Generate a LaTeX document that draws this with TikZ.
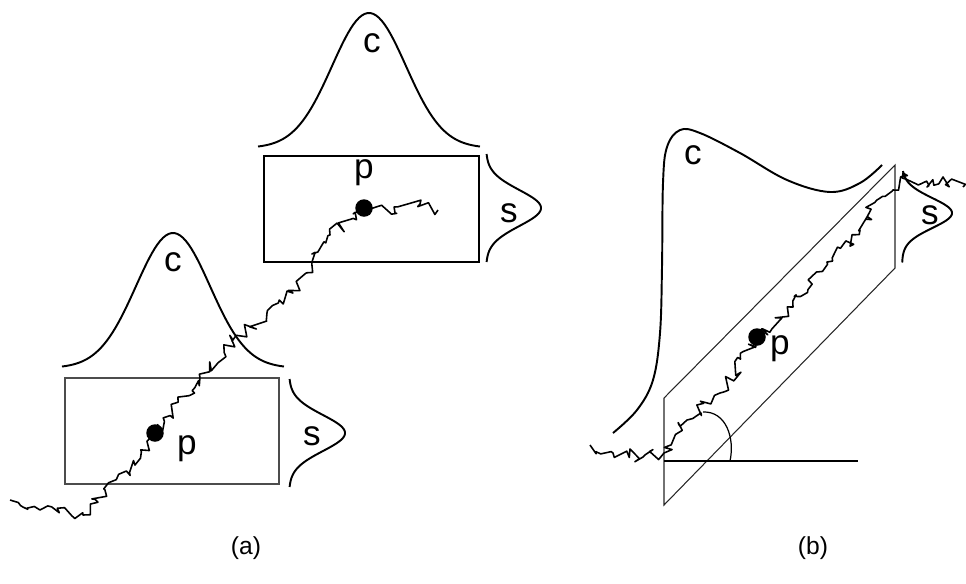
\documentclass[tikz,border=0pt]{standalone}
\usepackage{fontspec}
\setmainfont{Liberation Sans}
\usetikzlibrary{decorations.pathmorphing}

\tikzset{
  dot/.style={circle, fill=black, inner sep=0pt, minimum size=0.35cm},
  letter/.style={font=\fontsize{20}{24}\selectfont, inner sep=0pt},
  caption/.style={font=\fontsize{14}{16}\selectfont, inner sep=0pt},
  walk/.style={line width=0.9pt, line join=round, decorate,
    decoration={random steps, segment length=2.6pt, amplitude=3.6pt}},
  bell/.style={line width=1.1pt, line join=round},
  frame/.style={line width=0.7pt}
}

\begin{document}
\begin{tikzpicture}[x=0.02cm, y=-0.02cm]
  \useasboundingbox (0,0) rectangle (966,583);
  \pgfmathsetseed{11}

  % (a) windows
  \draw[frame, black!70] (65,378) rectangle (279,484);
  \draw[frame] (264,156) rectangle (479,262);

  % (a) bells
  \draw[bell] plot[domain=-3:3, samples=80] ({173+37*\x}, {368-135*exp(-0.5*(\x)^2)});
  \draw[bell] plot[domain=-3:3, samples=80] ({289+56*exp(-0.5*(\x)^2)}, {433+18*\x});
  \draw[bell] plot[domain=-3:3, samples=80] ({369+37*\x}, {148-135*exp(-0.5*(\x)^2)});
  \draw[bell] plot[domain=-3:3, samples=80] ({486+55*exp(-0.5*(\x)^2)}, {208+18*\x});

  % (a) nodes
  \node[dot] (pa) at (155,433) {};
  \node[letter] (pla) at (187,449) {p};
  \node[letter] (cla) at (173,262) {c};
  \node[letter] (sla) at (312,436) {s};
  \node[dot] (pb) at (364,208) {};
  \node[letter] (plb) at (364,173) {p};
  \node[letter] (clb) at (372,43) {c};
  \node[letter] (slb) at (509,213) {s};

  % (a) walk
  \coordinate (a0) at (10,500);
  \coordinate (a1) at (40,510);
  \coordinate (a2) at (83,515);
  \coordinate (a3) at (105,490);
  \coordinate (a4) at (135,465);
  \coordinate (a5) at (200,377);
  \coordinate (a6) at (233,340);
  \coordinate (a7) at (267,313);
  \coordinate (a8) at (293,293);
  \coordinate (a9) at (312,262);
  \coordinate (a10) at (330,235);
  \coordinate (a11) at (395,213);
  \coordinate (a12) at (420,204);
  \coordinate (a13) at (438,210);
  \draw[walk] (a0) -- (a1) -- (a2) -- (a3) -- (a4) -- (pa.center) -- (a5) -- (a6)
    -- (a7) -- (a8) -- (a9) -- (a10) -- (pb.center) -- (a11) -- (a12) -- (a13);

  % (b) band
  \coordinate (q1) at (664,398);
  \coordinate (q2) at (895,165);
  \coordinate (q3) at (895,268);
  \coordinate (q4) at (664,505);
  \draw[frame, black!85, line width=0.6pt] (q1) -- (q2) -- (q3) -- (q4) -- cycle;
  \coordinate (h1) at (664,461);
  \coordinate (h2) at (858,461);
  \draw[frame] (h1) -- (h2);
  \draw[frame] (730,461) .. controls (735,438) and (726,411) .. (703,412);

  % (b) bells
  \draw[bell] plot[smooth, tension=0.6] coordinates {(613,433) (637,410) (653,380)
    (660,333) (662,267) (663,183) (667,147) (680,130) (700,133) (740,153)
    (787,180) (830,192) (860,183) (882,165)};
  \draw[bell] plot[domain=-2.8:3.3, samples=80] ({902+50*exp(-0.5*(\x)^2)}, {213+15*\x});

  % (b) nodes
  \node[dot] (pc) at (757,337) {};
  \node[letter] (plc) at (780,349) {p};
  \node[letter] (clc) at (693,155) {c};
  \node[letter] (slc) at (930,215) {s};

  % (b) walk
  \coordinate (b0) at (590,445);
  \coordinate (b1) at (613,453);
  \coordinate (b2) at (643,457);
  \coordinate (b3) at (664,453);
  \coordinate (b4) at (687,420);
  \coordinate (b5) at (720,393);
  \coordinate (b6) at (793,307);
  \coordinate (b7) at (827,262);
  \coordinate (b8) at (860,230);
  \coordinate (b9) at (877,200);
  \coordinate (b10) at (893,190);
  \coordinate (b11) at (903,173);
  \coordinate (b12) at (927,187);
  \coordinate (b13) at (943,177);
  \coordinate (b14) at (963,187);
  \draw[walk] (b0) -- (b1) -- (b2) -- (b3) -- (b4) -- (b5) -- (pc.center) -- (b6)
    -- (b7) -- (b8) -- (b9) -- (b10) -- (b11) -- (b12) -- (b13) -- (b14);

  % captions
  \node[caption] (capa) at (246,548) {(a)};
  \node[caption] (capb) at (813,548) {(b)};
\end{tikzpicture}
\end{document}
